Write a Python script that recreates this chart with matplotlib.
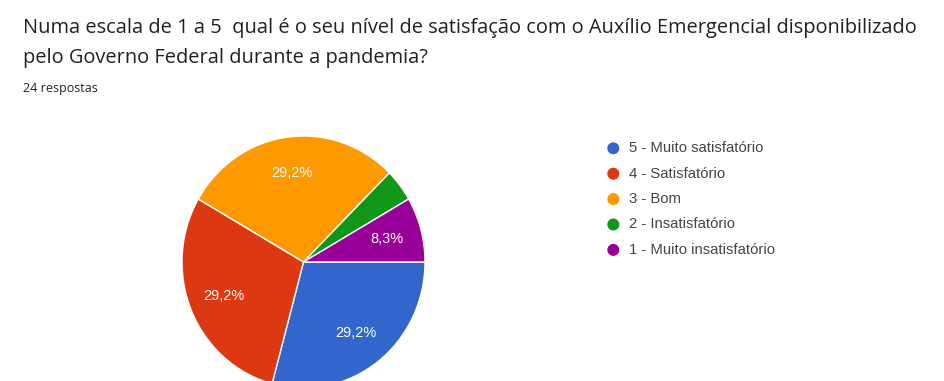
import matplotlib
matplotlib.use("Agg")
import matplotlib.pyplot as plt
from matplotlib.patches import Ellipse

plt.rcParams['font.family'] = ['Open Sans', 'DejaVu Sans']

# Survey results (24 responses)
categories = ["5 - Muito satisfatório", "4 - Satisfatório", "3 - Bom",
              "2 - Insatisfatório", "1 - Muito insatisfatório"]
counts = [7, 7, 7, 1, 2]
colors = ["#3366cc", "#dc3912", "#ff9900", "#109618", "#990099"]

title_lines = ["Numa escala de 1 a 5  qual é o seu nível de satisfação com o Auxílio Emergencial disponibilizado",
               "pelo Governo Federal durante a pandemia?"]
subtitle = "24 respostas"

W, H = 944, 381
fig = plt.figure(figsize=(W / 100, H / 100), dpi=100)
fig.patch.set_facecolor("white")


def fy(py):
    return 1 - py / H


# Header text
fig.text(23 / W, fy(33), title_lines[0], fontsize=14.4, color="#202124", va="baseline", ha="left")
fig.text(23 / W, fy(63), title_lines[1], fontsize=14.4, color="#202124", va="baseline", ha="left")
fig.text(23 / W, fy(92), subtitle, fontsize=9, color="#202124", va="baseline", ha="left")

# Pie chart
cx, cy, rx, ry = 303.5, 262, 121.5, 126
ax = fig.add_axes([(cx - rx) / W, (H - cy - ry) / H, 2 * rx / W, 2 * ry / H])


def fmt(p):
    if p < 5:
        return ""
    return f"{p:.1f}%".replace(".", ",")


wedges, texts, autotexts = ax.pie(
    counts, colors=colors, startangle=0, counterclock=False,
    autopct=fmt, pctdistance=0.71, radius=1,
    wedgeprops=dict(edgecolor="white", linewidth=1),
    textprops=dict(color="white", fontsize=10.5, family=["Liberation Sans", "DejaVu Sans"]),
)
ax.set_xlim(-1, 1)
ax.set_ylim(-1, 1)
ax.set_aspect("auto")
ax.axis("off")
for w in wedges:
    w.set_clip_on(False)

# Legend
lx, ly0, dy = 613.3, 148.3, 25.4
for i, (lab, col) in enumerate(zip(categories, colors)):
    y = fy(ly0 + i * dy)
    fig.patches.append(Ellipse((lx / W, y), 12 / W, 12 / H, transform=fig.transFigure,
                               facecolor=col, edgecolor="none", figure=fig))
    fig.text(629 / W, y, lab, fontsize=10.7, color="#444444", va="center", ha="left",
             family=["Liberation Sans", "DejaVu Sans"])

fig.savefig("out.png", dpi=100)
